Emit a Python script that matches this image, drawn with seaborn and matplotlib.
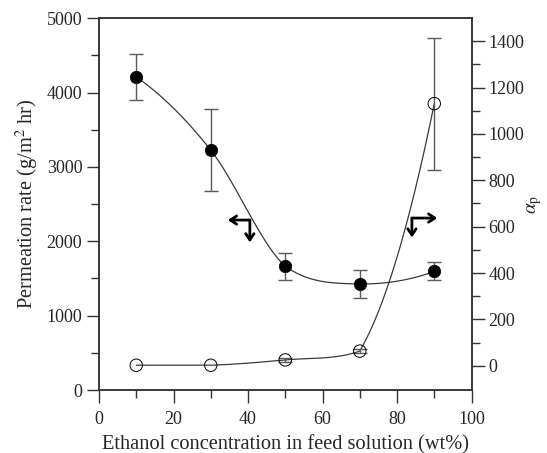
import numpy as np
import pandas as pd
import matplotlib
matplotlib.use("Agg")
import matplotlib.pyplot as plt
import seaborn as sns

# ---- data ----
ethanol = [10, 30, 50, 70, 90]                 # wt%
permeation = [4210, 3225, 1665, 1425, 1595]    # g/m2 hr
permeation_err = [310, 550, 180, 190, 120]
alpha_p = [2, 2, 25, 63, 1131]                 # separation factor
alpha_err = [0, 0, 10, 8, 285]

x_ticks = [0, 20, 40, 60, 80, 100]
left_ticks = [0, 1000, 2000, 3000, 4000, 5000]
right_ticks = [0, 200, 400, 600, 800, 1000, 1200, 1400]

xlabel = "Ethanol concentration in feed solution (wt%)"
ylabel_left = r"Permeation rate (g/m$^2$ hr)"
ylabel_right = r"$\alpha_\mathrm{p}$"


def smooth_curve(x, y, n=60):
    """Piecewise cubic Hermite with Catmull-Rom tangents clipped per segment
    (monotone-preserving, allows sharp turns like the original plot)."""
    x = np.asarray(x, float)
    y = np.asarray(y, float)
    h = np.diff(x)
    d = np.diff(y) / h
    m = np.zeros(len(x))
    m[1:-1] = (y[2:] - y[:-2]) / (x[2:] - x[:-2])
    m[0] = ((2 * h[0] + h[1]) * d[0] - h[0] * d[1]) / (h[0] + h[1])
    m[-1] = ((2 * h[-1] + h[-2]) * d[-1] - h[-1] * d[-2]) / (h[-1] + h[-2])
    xs_all, ys_all = [], []
    for k in range(len(h)):
        ml, mr = m[k], m[k + 1]
        dk = d[k]
        def clip(v):
            if dk == 0 or v * dk <= 0:
                return 0.0
            return np.sign(dk) * min(abs(v), 3 * abs(dk))
        ml, mr = clip(ml), clip(mr)
        t = np.linspace(0, 1, n)
        h00 = 2 * t**3 - 3 * t**2 + 1
        h10 = t**3 - 2 * t**2 + t
        h01 = -2 * t**3 + 3 * t**2
        h11 = t**3 - t**2
        yy = h00 * y[k] + h10 * h[k] * ml + h01 * y[k + 1] + h11 * h[k] * mr
        xx = x[k] + t * h[k]
        if k > 0:
            xx, yy = xx[1:], yy[1:]
        xs_all.append(xx)
        ys_all.append(yy)
    return np.concatenate(xs_all), np.concatenate(ys_all)


sns.set_style("ticks")
plt.rcParams["font.family"] = ["Liberation Serif", "DejaVu Serif"]
plt.rcParams["mathtext.fontset"] = "stix"
plt.rcParams["axes.linewidth"] = 1.1

fig = plt.figure(figsize=(5.47, 4.53), dpi=100)
ax = fig.add_axes([0.181, 0.139, 0.681, 0.821])
ax2 = ax.twinx()

line_col = "#3a3a3a"
err_col = "#5a5a5a"

df = pd.DataFrame({"ethanol": ethanol, "perm": permeation, "perm_err": permeation_err,
                   "alpha": alpha_p, "alpha_err": alpha_err})

# permeation (left axis, filled circles)
sx, sy = smooth_curve(df["ethanol"], df["perm"])
sns.lineplot(x=sx, y=sy, ax=ax, color=line_col, lw=0.9, sort=False, zorder=2)
ax.errorbar(df["ethanol"], df["perm"], yerr=df["perm_err"], fmt="none",
            ecolor=err_col, elinewidth=1.0, capsize=5, capthick=1.0, zorder=3)
sns.scatterplot(data=df, x="ethanol", y="perm", ax=ax, s=80, color="black",
                edgecolor="black", linewidth=0.5, zorder=4, legend=False)

# separation factor (right axis, open circles)
ax2x, ax2y = smooth_curve(df["ethanol"], df["alpha"])
sns.lineplot(x=ax2x, y=ax2y, ax=ax2, color=line_col, lw=0.9, sort=False, zorder=2)
mask = df["alpha_err"] > 0
ax2.errorbar(df["ethanol"][mask], df["alpha"][mask], yerr=df["alpha_err"][mask], fmt="none",
             ecolor=err_col, elinewidth=1.0, capsize=5, capthick=1.0, zorder=3)
sns.scatterplot(data=df, x="ethanol", y="alpha", ax=ax2, s=80, facecolor="none",
                edgecolor="black", linewidth=0.7, zorder=4, legend=False)

# axes limits / ticks
ax.set_xlim(0, 100)
ax.set_ylim(0, 5000)
ax2.set_ylim(-105, 1500)
ax.set_xticks(x_ticks)
ax.set_xticks(np.arange(10, 100, 20), minor=True)
ax.set_yticks(left_ticks)
ax.set_yticks(np.arange(500, 5000, 1000), minor=True)
ax2.set_yticks(right_ticks)
ax2.set_yticks(np.arange(100, 1500, 200), minor=True)

for a in (ax, ax2):
    a.tick_params(which="major", direction="out", length=9, width=1.0,
                  labelsize=13, color="#333333", pad=3)
    a.tick_params(which="minor", direction="out", length=6, width=1.0, color="#333333")
    for sp in a.spines.values():
        sp.set_visible(True)
        sp.set_color("#333333")
        sp.set_linewidth(1.1)
ax.tick_params(axis="x", which="both", top=False)
ax.tick_params(axis="x", which="major", pad=6)
ax.tick_params(axis="y", which="both", right=False)

ax.set_xlabel(xlabel, fontsize=14.7, labelpad=5)
ax.set_ylabel(ylabel_left, fontsize=14.7, labelpad=4)
ax2.set_ylabel(ylabel_right, fontsize=14, labelpad=1)
ax.set_zorder(ax2.get_zorder() + 1)
ax.patch.set_visible(False)

# direction arrows
arrow_kw = dict(arrowstyle="->,head_length=0.45,head_width=0.3", lw=2.0, color="black",
                shrinkA=0, shrinkB=0)
ax.annotate("", xy=(34.6, 2285), xytext=(40.5, 2285), arrowprops=arrow_kw)
ax.annotate("", xy=(40.5, 1985), xytext=(40.5, 2285), arrowprops=arrow_kw)
ax.annotate("", xy=(90.8, 2312), xytext=(84.0, 2312), arrowprops=arrow_kw)
ax.annotate("", xy=(84.0, 2050), xytext=(84.0, 2312), arrowprops=arrow_kw)

fig.savefig("out.png", dpi=100)
